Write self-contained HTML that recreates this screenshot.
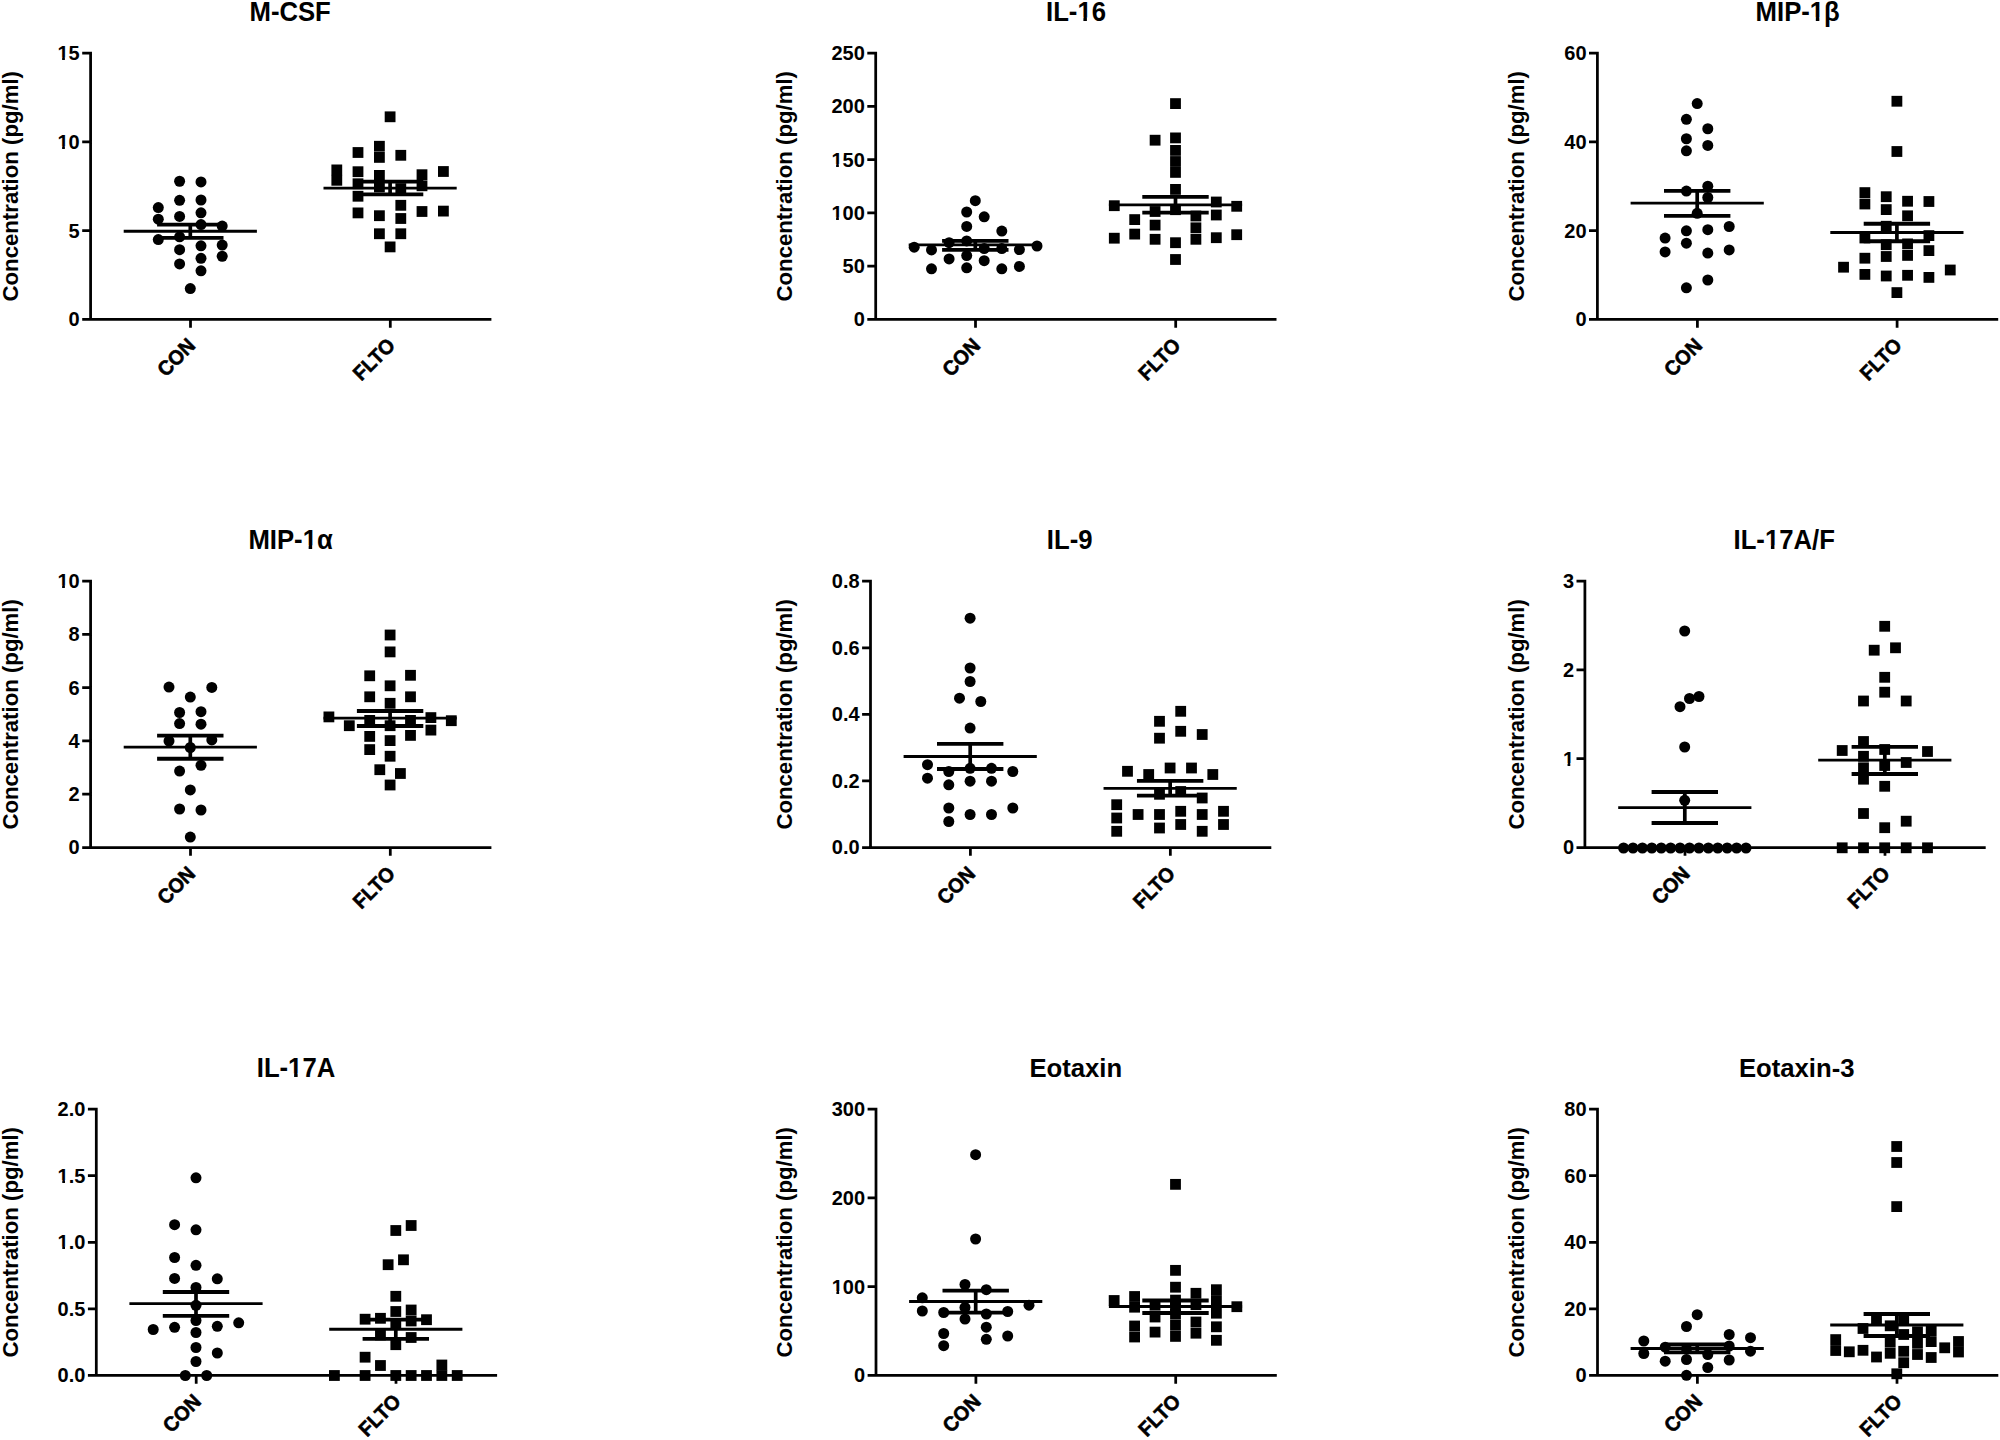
<!DOCTYPE html>
<html lang="en"><head><meta charset="utf-8"><title>Cytokine concentrations: CON vs FLTO</title>
<style>html,body{margin:0;padding:0;background:#fff}body{width:2000px;height:1440px;overflow:hidden}svg{display:block}text{font-family:"Liberation Sans",sans-serif;font-weight:bold;fill:#000}.t{font-size:25.7px;text-anchor:middle}.y{font-size:22.2px;text-anchor:middle}.k{font-size:20.0px;text-anchor:end}.x{font-size:19.7px;text-anchor:end;stroke:#000;stroke-width:.55px;stroke-linejoin:round}.a{stroke:#000;stroke-width:2.75;fill:none;stroke-linecap:butt}.m{stroke:#000;stroke-width:2.8;fill:none}.c{stroke:#000;stroke-width:3.8;fill:none}.s{stroke:#000;stroke-width:3.7;fill:none}</style></head><body>
<svg width="2000" height="1440" viewBox="0 0 2000 1440">
<rect width="2000" height="1440" fill="#fff"/>
<g>
<g transform="translate(290.15 20.5) scale(1 1.04)"><text class="t">M-CSF</text></g>
<text class="y" transform="translate(18.2 186.25) rotate(-90) scale(1 1)">Concentration (pg/ml)</text>
<path class="a" d="M90.6 51.72V320.77M82.2 319.4H491.4M82.2 53.1H90.6M82.2 141.87H90.6M82.2 230.63H90.6M190.5 319.4V327.75M390.3 319.4V327.75"/>
<g transform="translate(79.7 60) scale(1 1.04)"><text class="k">15</text><path fill="#fff" d="M-21.85 -2.39h4.28v3.39h-4.28zM-14.83 -2.39h4.16v3.39h-4.16z"/></g>
<g transform="translate(79.7 148.77) scale(1 1.04)"><text class="k">10</text><path fill="#fff" d="M-21.85 -2.39h4.28v3.39h-4.28zM-14.83 -2.39h4.16v3.39h-4.16z"/></g>
<g transform="translate(79.7 237.53) scale(1 1.04)"><text class="k">5</text></g>
<g transform="translate(79.7 326.3) scale(1 1.04)"><text class="k">0</text></g>
<text class="x" transform="translate(190.6 342.6) rotate(-45) scale(1 1.04)" x="1.3" y="6.9">CON</text>
<text class="x" transform="translate(390.4 342.6) rotate(-45) scale(1 1.04)" x="1.3" y="6.9">FLTO</text>
<circle cx="158.3" cy="207.6" r="5.5"/><circle cx="158.3" cy="219.2" r="5.5"/><circle cx="158.3" cy="239.6" r="5.5"/><circle cx="179.6" cy="181.25" r="5.5"/><circle cx="179.6" cy="200.3" r="5.5"/><circle cx="179.6" cy="216.4" r="5.5"/><circle cx="179.6" cy="236.8" r="5.5"/><circle cx="179.6" cy="249.7" r="5.5"/><circle cx="179.6" cy="263.9" r="5.5"/><circle cx="201" cy="181.9" r="5.5"/><circle cx="201" cy="200" r="5.5"/><circle cx="201" cy="212.8" r="5.5"/><circle cx="201" cy="224.6" r="5.5"/><circle cx="201" cy="245.8" r="5.5"/><circle cx="201" cy="258.3" r="5.5"/><circle cx="201" cy="270.8" r="5.5"/><circle cx="222.2" cy="226.1" r="5.5"/><circle cx="222.2" cy="245.1" r="5.5"/><circle cx="222.2" cy="256.25" r="5.5"/><circle cx="190.3" cy="288.6" r="5.5"/>
<path class="m" d="M123.7 231.25H256.9"/>
<path class="c" d="M157.1 224.6H223.5M157.1 237.8H223.5"/>
<path class="s" d="M190.3 224.6V237.8"/>
<rect x="384.7" y="111.4" width="10.8" height="10.8"/><rect x="384.7" y="241.5" width="10.8" height="10.8"/><rect x="374" y="140.85" width="10.8" height="10.8"/><rect x="374" y="152" width="10.8" height="10.8"/><rect x="374" y="170" width="10.8" height="10.8"/><rect x="374" y="181.6" width="10.8" height="10.8"/><rect x="374" y="210.3" width="10.8" height="10.8"/><rect x="374" y="228.35" width="10.8" height="10.8"/><rect x="395.4" y="149.9" width="10.8" height="10.8"/><rect x="395.4" y="183.2" width="10.8" height="10.8"/><rect x="395.4" y="199.9" width="10.8" height="10.8"/><rect x="395.4" y="213.1" width="10.8" height="10.8"/><rect x="395.4" y="228.35" width="10.8" height="10.8"/><rect x="352.6" y="147.1" width="10.8" height="10.8"/><rect x="352.6" y="166.3" width="10.8" height="10.8"/><rect x="352.6" y="178.35" width="10.8" height="10.8"/><rect x="352.6" y="190.85" width="10.8" height="10.8"/><rect x="352.6" y="207.5" width="10.8" height="10.8"/><rect x="416.6" y="169.3" width="10.8" height="10.8"/><rect x="416.6" y="180.4" width="10.8" height="10.8"/><rect x="416.6" y="206.1" width="10.8" height="10.8"/><rect x="331.4" y="164.5" width="10.8" height="10.8"/><rect x="331.4" y="174.9" width="10.8" height="10.8"/><rect x="438" y="166.1" width="10.8" height="10.8"/><rect x="438" y="205.7" width="10.8" height="10.8"/>
<path class="m" d="M323.5 188.2H456.7"/>
<path class="c" d="M356.9 181.7H423.3M356.9 194.4H423.3"/>
<path class="s" d="M390.1 181.7V194.4"/>
</g>
<g>
<g transform="translate(1076 20.5) scale(1 1.04)"><text class="t">IL-16</text><path fill="#fff" d="M1.89 -2.97h5.5v3.97h-5.5zM10.91 -2.97h5.35v3.97h-5.35z"/></g>
<text class="y" transform="translate(791.7 186.25) rotate(-90) scale(1 1)">Concentration (pg/ml)</text>
<path class="a" d="M875.7 51.72V320.77M867.3 319.4H1276.5M867.3 53.1H875.7M867.3 106.36H875.7M867.3 159.62H875.7M867.3 212.88H875.7M867.3 266.14H875.7M975.5 319.4V327.75M1175.7 319.4V327.75"/>
<g transform="translate(864.8 60) scale(1 1.04)"><text class="k">250</text></g>
<g transform="translate(864.8 113.26) scale(1 1.04)"><text class="k">200</text></g>
<g transform="translate(864.8 166.52) scale(1 1.04)"><text class="k">150</text><path fill="#fff" d="M-32.97 -2.39h4.28v3.39h-4.28zM-25.95 -2.39h4.16v3.39h-4.16z"/></g>
<g transform="translate(864.8 219.78) scale(1 1.04)"><text class="k">100</text><path fill="#fff" d="M-32.97 -2.39h4.28v3.39h-4.28zM-25.95 -2.39h4.16v3.39h-4.16z"/></g>
<g transform="translate(864.8 273.04) scale(1 1.04)"><text class="k">50</text></g>
<g transform="translate(864.8 326.3) scale(1 1.04)"><text class="k">0</text></g>
<text class="x" transform="translate(975.6 342.6) rotate(-45) scale(1 1.04)" x="1.3" y="6.9">CON</text>
<text class="x" transform="translate(1175.8 342.6) rotate(-45) scale(1 1.04)" x="1.3" y="6.9">FLTO</text>
<circle cx="975.3" cy="200.7" r="5.5"/><circle cx="966.7" cy="212" r="5.5"/><circle cx="984.2" cy="216.8" r="5.5"/><circle cx="966.7" cy="226.4" r="5.5"/><circle cx="1001.8" cy="231.1" r="5.5"/><circle cx="966.7" cy="240.9" r="5.5"/><circle cx="949.1" cy="242.7" r="5.5"/><circle cx="914.2" cy="247.2" r="5.5"/><circle cx="1037" cy="246" r="5.5"/><circle cx="931.5" cy="249.9" r="5.5"/><circle cx="984.2" cy="248.5" r="5.5"/><circle cx="1001.8" cy="248.5" r="5.5"/><circle cx="1019.4" cy="249.6" r="5.5"/><circle cx="966.7" cy="255.6" r="5.5"/><circle cx="949.1" cy="258.9" r="5.5"/><circle cx="984.2" cy="260.7" r="5.5"/><circle cx="931.5" cy="268.8" r="5.5"/><circle cx="966.7" cy="267.8" r="5.5"/><circle cx="1001.8" cy="268.8" r="5.5"/><circle cx="1019.4" cy="266.4" r="5.5"/>
<path class="m" d="M908.7 244.9H1041.9"/>
<path class="c" d="M942.1 240.9H1008.5M942.1 249.9H1008.5"/>
<path class="s" d="M975.3 240.9V249.9"/>
<rect x="1170.1" y="98.2" width="10.8" height="10.8"/><rect x="1170.1" y="132.5" width="10.8" height="10.8"/><rect x="1170.1" y="145" width="10.8" height="10.8"/><rect x="1170.1" y="156.1" width="10.8" height="10.8"/><rect x="1170.1" y="167" width="10.8" height="10.8"/><rect x="1170.1" y="184" width="10.8" height="10.8"/><rect x="1170.1" y="204.3" width="10.8" height="10.8"/><rect x="1170.1" y="237.3" width="10.8" height="10.8"/><rect x="1170.1" y="254.1" width="10.8" height="10.8"/><rect x="1149.7" y="134.8" width="10.8" height="10.8"/><rect x="1149.7" y="206.1" width="10.8" height="10.8"/><rect x="1149.7" y="219.7" width="10.8" height="10.8"/><rect x="1149.7" y="233.9" width="10.8" height="10.8"/><rect x="1190.5" y="210.6" width="10.8" height="10.8"/><rect x="1190.5" y="222.4" width="10.8" height="10.8"/><rect x="1190.5" y="233.9" width="10.8" height="10.8"/><rect x="1129.3" y="214.2" width="10.8" height="10.8"/><rect x="1129.3" y="228.7" width="10.8" height="10.8"/><rect x="1210.9" y="196.6" width="10.8" height="10.8"/><rect x="1210.9" y="209.6" width="10.8" height="10.8"/><rect x="1210.9" y="232.3" width="10.8" height="10.8"/><rect x="1108.9" y="200.3" width="10.8" height="10.8"/><rect x="1108.9" y="232.8" width="10.8" height="10.8"/><rect x="1231.3" y="200.9" width="10.8" height="10.8"/><rect x="1231.3" y="229.3" width="10.8" height="10.8"/>
<path class="m" d="M1108.9 204.8H1242.1"/>
<path class="c" d="M1142.3 196.8H1208.7M1142.3 212.7H1208.7"/>
<path class="s" d="M1175.5 196.8V212.7"/>
</g>
<g>
<g transform="translate(1797.7 20.5) scale(1 1.04)"><text class="t">MIP-1β</text><path fill="#fff" d="M12.61 -2.97h5.5v3.97h-5.5zM21.63 -2.97h5.35v3.97h-5.35z"/></g>
<text class="y" transform="translate(1524.2 186.25) rotate(-90) scale(1 1)">Concentration (pg/ml)</text>
<path class="a" d="M1597.4 51.72V320.77M1589 319.4H1998.2M1589 53.1H1597.4M1589 141.87H1597.4M1589 230.63H1597.4M1697.4 319.4V327.75M1897.1 319.4V327.75"/>
<g transform="translate(1586.5 60) scale(1 1.04)"><text class="k">60</text></g>
<g transform="translate(1586.5 148.77) scale(1 1.04)"><text class="k">40</text></g>
<g transform="translate(1586.5 237.53) scale(1 1.04)"><text class="k">20</text></g>
<g transform="translate(1586.5 326.3) scale(1 1.04)"><text class="k">0</text></g>
<text class="x" transform="translate(1697.5 342.6) rotate(-45) scale(1 1.04)" x="1.3" y="6.9">CON</text>
<text class="x" transform="translate(1897.2 342.6) rotate(-45) scale(1 1.04)" x="1.3" y="6.9">FLTO</text>
<circle cx="1697.2" cy="103.6" r="5.5"/><circle cx="1686.4" cy="119.3" r="5.5"/><circle cx="1707.8" cy="128.75" r="5.5"/><circle cx="1686.4" cy="138.75" r="5.5"/><circle cx="1707.8" cy="145.4" r="5.5"/><circle cx="1686.4" cy="150.8" r="5.5"/><circle cx="1707.8" cy="186.25" r="5.5"/><circle cx="1686.4" cy="191.1" r="5.5"/><circle cx="1707.8" cy="197.5" r="5.5"/><circle cx="1697.2" cy="213.3" r="5.5"/><circle cx="1729.2" cy="226.5" r="5.5"/><circle cx="1707.8" cy="229.7" r="5.5"/><circle cx="1686.4" cy="230.8" r="5.5"/><circle cx="1665.1" cy="238.1" r="5.5"/><circle cx="1686.4" cy="243.2" r="5.5"/><circle cx="1729.2" cy="249.9" r="5.5"/><circle cx="1665.1" cy="251.9" r="5.5"/><circle cx="1707.8" cy="253.1" r="5.5"/><circle cx="1707.8" cy="280" r="5.5"/><circle cx="1686.4" cy="287.8" r="5.5"/>
<path class="m" d="M1630.6 203.2H1763.8"/>
<path class="c" d="M1664 190.8H1730.4M1664 215.8H1730.4"/>
<path class="s" d="M1697.2 190.8V215.8"/>
<rect x="1891.5" y="95.85" width="10.8" height="10.8"/><rect x="1891.5" y="146.1" width="10.8" height="10.8"/><rect x="1891.5" y="287.2" width="10.8" height="10.8"/><rect x="1859.49" y="187.2" width="10.8" height="10.8"/><rect x="1859.49" y="198.6" width="10.8" height="10.8"/><rect x="1859.49" y="232.6" width="10.8" height="10.8"/><rect x="1859.49" y="252.8" width="10.8" height="10.8"/><rect x="1859.49" y="269" width="10.8" height="10.8"/><rect x="1880.83" y="191.3" width="10.8" height="10.8"/><rect x="1880.83" y="204.2" width="10.8" height="10.8"/><rect x="1880.83" y="220.85" width="10.8" height="10.8"/><rect x="1880.83" y="239.3" width="10.8" height="10.8"/><rect x="1880.83" y="251.1" width="10.8" height="10.8"/><rect x="1880.83" y="270.6" width="10.8" height="10.8"/><rect x="1902.17" y="195.85" width="10.8" height="10.8"/><rect x="1902.17" y="210.4" width="10.8" height="10.8"/><rect x="1902.17" y="238.5" width="10.8" height="10.8"/><rect x="1902.17" y="250" width="10.8" height="10.8"/><rect x="1902.17" y="269.9" width="10.8" height="10.8"/><rect x="1923.51" y="196.1" width="10.8" height="10.8"/><rect x="1923.51" y="230.2" width="10.8" height="10.8"/><rect x="1923.51" y="245.2" width="10.8" height="10.8"/><rect x="1923.51" y="272" width="10.8" height="10.8"/><rect x="1838.15" y="261.8" width="10.8" height="10.8"/><rect x="1944.85" y="264.6" width="10.8" height="10.8"/>
<path class="m" d="M1830.3 232.5H1963.5"/>
<path class="c" d="M1863.7 223.75H1930.1M1863.7 241.25H1930.1"/>
<path class="s" d="M1896.9 223.75V241.25"/>
</g>
<g>
<g transform="translate(290.6 548.6) scale(1 1.04)"><text class="t">MIP-1α</text><path fill="#fff" d="M12.56 -2.97h5.5v3.97h-5.5zM21.58 -2.97h5.35v3.97h-5.35z"/></g>
<text class="y" transform="translate(18.2 714.35) rotate(-90) scale(1 1)">Concentration (pg/ml)</text>
<path class="a" d="M90.6 579.83V848.88M82.2 847.5H491.4M82.2 581.2H90.6M82.2 634.46H90.6M82.2 687.72H90.6M82.2 740.98H90.6M82.2 794.24H90.6M190.5 847.5V855.85M390.3 847.5V855.85"/>
<g transform="translate(79.7 588.1) scale(1 1.04)"><text class="k">10</text><path fill="#fff" d="M-21.85 -2.39h4.28v3.39h-4.28zM-14.83 -2.39h4.16v3.39h-4.16z"/></g>
<g transform="translate(79.7 641.36) scale(1 1.04)"><text class="k">8</text></g>
<g transform="translate(79.7 694.62) scale(1 1.04)"><text class="k">6</text></g>
<g transform="translate(79.7 747.88) scale(1 1.04)"><text class="k">4</text></g>
<g transform="translate(79.7 801.14) scale(1 1.04)"><text class="k">2</text></g>
<g transform="translate(79.7 854.4) scale(1 1.04)"><text class="k">0</text></g>
<text class="x" transform="translate(190.6 870.7) rotate(-45) scale(1 1.04)" x="1.3" y="6.9">CON</text>
<text class="x" transform="translate(390.4 870.7) rotate(-45) scale(1 1.04)" x="1.3" y="6.9">FLTO</text>
<circle cx="169" cy="687.1" r="5.5"/><circle cx="211.8" cy="687.4" r="5.5"/><circle cx="190.3" cy="697.1" r="5.5"/><circle cx="179.6" cy="712.5" r="5.5"/><circle cx="201" cy="711.7" r="5.5"/><circle cx="179.6" cy="723.6" r="5.5"/><circle cx="201" cy="724.2" r="5.5"/><circle cx="169" cy="741" r="5.5"/><circle cx="211.8" cy="739.9" r="5.5"/><circle cx="190.3" cy="747.5" r="5.5"/><circle cx="201" cy="765.3" r="5.5"/><circle cx="179.6" cy="771.1" r="5.5"/><circle cx="190.3" cy="789.9" r="5.5"/><circle cx="179.6" cy="809" r="5.5"/><circle cx="201" cy="810" r="5.5"/><circle cx="190.3" cy="837.1" r="5.5"/>
<path class="m" d="M123.7 747.2H256.9"/>
<path class="c" d="M157.1 735.7H223.5M157.1 758.75H223.5"/>
<path class="s" d="M190.3 735.7V758.75"/>
<rect x="384.7" y="629.6" width="10.8" height="10.8"/><rect x="384.7" y="646.5" width="10.8" height="10.8"/><rect x="384.7" y="680.4" width="10.8" height="10.8"/><rect x="384.7" y="697.9" width="10.8" height="10.8"/><rect x="384.7" y="720.3" width="10.8" height="10.8"/><rect x="384.7" y="735.2" width="10.8" height="10.8"/><rect x="384.7" y="750.85" width="10.8" height="10.8"/><rect x="384.7" y="779.6" width="10.8" height="10.8"/><rect x="364.3" y="670.4" width="10.8" height="10.8"/><rect x="364.3" y="691.4" width="10.8" height="10.8"/><rect x="364.3" y="715" width="10.8" height="10.8"/><rect x="364.3" y="731" width="10.8" height="10.8"/><rect x="364.3" y="744.2" width="10.8" height="10.8"/><rect x="405.1" y="669.9" width="10.8" height="10.8"/><rect x="405.1" y="691.4" width="10.8" height="10.8"/><rect x="405.1" y="715" width="10.8" height="10.8"/><rect x="405.1" y="730" width="10.8" height="10.8"/><rect x="343.9" y="720.3" width="10.8" height="10.8"/><rect x="425.5" y="712.2" width="10.8" height="10.8"/><rect x="425.5" y="724.7" width="10.8" height="10.8"/><rect x="323.5" y="711.5" width="10.8" height="10.8"/><rect x="445.9" y="715.3" width="10.8" height="10.8"/><rect x="374.4" y="764.3" width="10.8" height="10.8"/><rect x="395" y="768.1" width="10.8" height="10.8"/>
<path class="m" d="M323.5 718.05H456.7"/>
<path class="c" d="M356.9 711H423.3M356.9 726H423.3"/>
<path class="s" d="M390.1 711V726"/>
</g>
<g>
<g transform="translate(1069.7 548.6) scale(1 1.04)"><text class="t">IL-9</text></g>
<text class="y" transform="translate(791.7 714.35) rotate(-90) scale(1 1)">Concentration (pg/ml)</text>
<path class="a" d="M870.5 579.83V848.88M862.1 847.5H1271.3M862.1 581.2H870.5M862.1 647.78H870.5M862.1 714.35H870.5M862.1 780.93H870.5M970.4 847.5V855.85M1170.35 847.5V855.85"/>
<g transform="translate(859.6 588.1) scale(1 1.04)"><text class="k">0.8</text></g>
<g transform="translate(859.6 654.68) scale(1 1.04)"><text class="k">0.6</text></g>
<g transform="translate(859.6 721.25) scale(1 1.04)"><text class="k">0.4</text></g>
<g transform="translate(859.6 787.83) scale(1 1.04)"><text class="k">0.2</text></g>
<g transform="translate(859.6 854.4) scale(1 1.04)"><text class="k">0.0</text></g>
<text class="x" transform="translate(970.5 870.7) rotate(-45) scale(1 1.04)" x="1.3" y="6.9">CON</text>
<text class="x" transform="translate(1170.45 870.7) rotate(-45) scale(1 1.04)" x="1.3" y="6.9">FLTO</text>
<circle cx="970.1" cy="618.2" r="5.5"/><circle cx="970.1" cy="668" r="5.5"/><circle cx="970.1" cy="681.5" r="5.5"/><circle cx="959.5" cy="698.2" r="5.5"/><circle cx="980.8" cy="701.5" r="5.5"/><circle cx="970.1" cy="728.1" r="5.5"/><circle cx="927.5" cy="764.7" r="5.5"/><circle cx="927.5" cy="778.2" r="5.5"/><circle cx="948.8" cy="771.5" r="5.5"/><circle cx="948.8" cy="784.8" r="5.5"/><circle cx="970.1" cy="768.3" r="5.5"/><circle cx="970.1" cy="781.2" r="5.5"/><circle cx="991.5" cy="768.3" r="5.5"/><circle cx="991.5" cy="781.2" r="5.5"/><circle cx="1012.8" cy="771.5" r="5.5"/><circle cx="948.8" cy="808" r="5.5"/><circle cx="948.8" cy="821.5" r="5.5"/><circle cx="970.1" cy="814.5" r="5.5"/><circle cx="991.5" cy="814.5" r="5.5"/><circle cx="1012.8" cy="808" r="5.5"/>
<path class="m" d="M903.6 756.5H1036.8"/>
<path class="c" d="M937 743.9H1003.4M937 769H1003.4"/>
<path class="s" d="M970.2 743.9V769"/>
<rect x="1175.3" y="705.9" width="10.8" height="10.8"/><rect x="1154.1" y="715.9" width="10.8" height="10.8"/><rect x="1175.3" y="725.9" width="10.8" height="10.8"/><rect x="1196.8" y="729.1" width="10.8" height="10.8"/><rect x="1154.1" y="732.8" width="10.8" height="10.8"/><rect x="1164.7" y="762.6" width="10.8" height="10.8"/><rect x="1186.1" y="762.6" width="10.8" height="10.8"/><rect x="1122.1" y="765.9" width="10.8" height="10.8"/><rect x="1143.3" y="769.1" width="10.8" height="10.8"/><rect x="1207.4" y="769.1" width="10.8" height="10.8"/><rect x="1154.1" y="788.9" width="10.8" height="10.8"/><rect x="1175.3" y="786.1" width="10.8" height="10.8"/><rect x="1196.8" y="792.6" width="10.8" height="10.8"/><rect x="1111.3" y="799.3" width="10.8" height="10.8"/><rect x="1111.3" y="812.6" width="10.8" height="10.8"/><rect x="1111.3" y="825.9" width="10.8" height="10.8"/><rect x="1132.7" y="809.1" width="10.8" height="10.8"/><rect x="1154.1" y="809.1" width="10.8" height="10.8"/><rect x="1154.1" y="822.6" width="10.8" height="10.8"/><rect x="1175.3" y="805.9" width="10.8" height="10.8"/><rect x="1175.3" y="819.1" width="10.8" height="10.8"/><rect x="1196.8" y="809.1" width="10.8" height="10.8"/><rect x="1196.8" y="825.9" width="10.8" height="10.8"/><rect x="1218.1" y="805.9" width="10.8" height="10.8"/><rect x="1218.1" y="819.1" width="10.8" height="10.8"/>
<path class="m" d="M1103.55 788.3H1236.75"/>
<path class="c" d="M1136.95 780.8H1203.35M1136.95 795.7H1203.35"/>
<path class="s" d="M1170.15 780.8V795.7"/>
</g>
<g>
<g transform="translate(1784.2 548.6) scale(1 1.04)"><text class="t">IL-17A/F</text><path fill="#fff" d="M-18.8 -2.97h5.5v3.97h-5.5zM-9.77 -2.97h5.35v3.97h-5.35z"/></g>
<text class="y" transform="translate(1524.2 714.35) rotate(-90) scale(1 1)">Concentration (pg/ml)</text>
<path class="a" d="M1584.9 579.83V848.88M1576.5 847.5H1985.7M1576.5 581.2H1584.9M1576.5 669.97H1584.9M1576.5 758.73H1584.9M1685 847.5V855.85M1885 847.5V855.85"/>
<g transform="translate(1574 588.1) scale(1 1.04)"><text class="k">3</text></g>
<g transform="translate(1574 676.87) scale(1 1.04)"><text class="k">2</text></g>
<g transform="translate(1574 765.63) scale(1 1.04)"><text class="k">1</text><path fill="#fff" d="M-10.73 -2.39h4.28v3.39h-4.28zM-3.71 -2.39h4.16v3.39h-4.16z"/></g>
<g transform="translate(1574 854.4) scale(1 1.04)"><text class="k">0</text></g>
<text class="x" transform="translate(1685.1 870.7) rotate(-45) scale(1 1.04)" x="1.3" y="6.9">CON</text>
<text class="x" transform="translate(1885.1 870.7) rotate(-45) scale(1 1.04)" x="1.3" y="6.9">FLTO</text>
<circle cx="1684.7" cy="631" r="5.5"/><circle cx="1680" cy="706.7" r="5.5"/><circle cx="1689.5" cy="698.5" r="5.5"/><circle cx="1699" cy="696.5" r="5.5"/><circle cx="1684.7" cy="747" r="5.5"/><circle cx="1684.7" cy="800.3" r="5.5"/><circle cx="1623.57" cy="848" r="5.5"/><circle cx="1632.99" cy="848" r="5.5"/><circle cx="1642.41" cy="848" r="5.5"/><circle cx="1651.83" cy="848" r="5.5"/><circle cx="1661.25" cy="848" r="5.5"/><circle cx="1670.67" cy="848" r="5.5"/><circle cx="1680.09" cy="848" r="5.5"/><circle cx="1689.51" cy="848" r="5.5"/><circle cx="1698.93" cy="848" r="5.5"/><circle cx="1708.35" cy="848" r="5.5"/><circle cx="1717.77" cy="848" r="5.5"/><circle cx="1727.19" cy="848" r="5.5"/><circle cx="1736.61" cy="848" r="5.5"/><circle cx="1746.03" cy="848" r="5.5"/>
<path class="m" d="M1618.2 807.6H1751.4"/>
<path class="c" d="M1651.6 792H1718M1651.6 823H1718"/>
<path class="s" d="M1684.8 792V823"/>
<rect x="1879.3" y="620.9" width="10.8" height="10.8"/><rect x="1868.8" y="644.8" width="10.8" height="10.8"/><rect x="1890.1" y="642.4" width="10.8" height="10.8"/><rect x="1879.3" y="671.9" width="10.8" height="10.8"/><rect x="1879.3" y="686.8" width="10.8" height="10.8"/><rect x="1858.1" y="695.6" width="10.8" height="10.8"/><rect x="1900.8" y="695.6" width="10.8" height="10.8"/><rect x="1858.1" y="736.1" width="10.8" height="10.8"/><rect x="1836.8" y="745.1" width="10.8" height="10.8"/><rect x="1922.1" y="746.1" width="10.8" height="10.8"/><rect x="1879.3" y="744.1" width="10.8" height="10.8"/><rect x="1858.1" y="750.9" width="10.8" height="10.8"/><rect x="1858.1" y="762.4" width="10.8" height="10.8"/><rect x="1858.1" y="773.8" width="10.8" height="10.8"/><rect x="1879.3" y="760.1" width="10.8" height="10.8"/><rect x="1900.8" y="757.1" width="10.8" height="10.8"/><rect x="1879.3" y="780.9" width="10.8" height="10.8"/><rect x="1858.1" y="808.1" width="10.8" height="10.8"/><rect x="1900.8" y="815.8" width="10.8" height="10.8"/><rect x="1879.3" y="822.3" width="10.8" height="10.8"/><rect x="1836.8" y="842.4" width="10.8" height="10.8"/><rect x="1858.1" y="842.4" width="10.8" height="10.8"/><rect x="1879.3" y="842.4" width="10.8" height="10.8"/><rect x="1900.8" y="842.4" width="10.8" height="10.8"/><rect x="1922.1" y="842.4" width="10.8" height="10.8"/>
<path class="m" d="M1818.2 760.2H1951.4"/>
<path class="c" d="M1851.6 746.8H1918M1851.6 774H1918"/>
<path class="s" d="M1884.8 746.8V774"/>
</g>
<g>
<g transform="translate(296 1076.5) scale(1 1.04)"><text class="t">IL-17A</text><path fill="#fff" d="M-7.39 -2.97h5.5v3.97h-5.5zM1.64 -2.97h5.35v3.97h-5.35z"/></g>
<text class="y" transform="translate(18.2 1242.25) rotate(-90) scale(1 1)">Concentration (pg/ml)</text>
<path class="a" d="M96.3 1107.73V1376.78M87.9 1375.4H497.1M87.9 1109.1H96.3M87.9 1175.68H96.3M87.9 1242.25H96.3M87.9 1308.83H96.3M196.2 1375.4V1383.75M396 1375.4V1383.75"/>
<g transform="translate(85.4 1116) scale(1 1.04)"><text class="k">2.0</text></g>
<g transform="translate(85.4 1182.58) scale(1 1.04)"><text class="k">1.5</text><path fill="#fff" d="M-27.41 -2.39h4.28v3.39h-4.28zM-20.39 -2.39h4.16v3.39h-4.16z"/></g>
<g transform="translate(85.4 1249.15) scale(1 1.04)"><text class="k">1.0</text><path fill="#fff" d="M-27.41 -2.39h4.28v3.39h-4.28zM-20.39 -2.39h4.16v3.39h-4.16z"/></g>
<g transform="translate(85.4 1315.73) scale(1 1.04)"><text class="k">0.5</text></g>
<g transform="translate(85.4 1382.3) scale(1 1.04)"><text class="k">0.0</text></g>
<text class="x" transform="translate(196.3 1398.6) rotate(-45) scale(1 1.04)" x="1.3" y="6.9">CON</text>
<text class="x" transform="translate(396.1 1398.6) rotate(-45) scale(1 1.04)" x="1.3" y="6.9">FLTO</text>
<circle cx="196" cy="1177.8" r="5.5"/><circle cx="174.6" cy="1224.7" r="5.5"/><circle cx="196" cy="1229.8" r="5.5"/><circle cx="174.6" cy="1257.5" r="5.5"/><circle cx="196" cy="1265.3" r="5.5"/><circle cx="174.6" cy="1278.4" r="5.5"/><circle cx="217.3" cy="1278.8" r="5.5"/><circle cx="196" cy="1287.4" r="5.5"/><circle cx="196" cy="1305.3" r="5.5"/><circle cx="196" cy="1320.5" r="5.5"/><circle cx="153.2" cy="1329.5" r="5.5"/><circle cx="174.6" cy="1327.3" r="5.5"/><circle cx="217.3" cy="1326.3" r="5.5"/><circle cx="238.7" cy="1322.8" r="5.5"/><circle cx="196" cy="1332.5" r="5.5"/><circle cx="196" cy="1347.5" r="5.5"/><circle cx="217.3" cy="1353" r="5.5"/><circle cx="196" cy="1361.5" r="5.5"/><circle cx="185.3" cy="1375.5" r="5.5"/><circle cx="206.7" cy="1375.5" r="5.5"/>
<path class="m" d="M129.4 1303.7H262.6"/>
<path class="c" d="M162.8 1292H229.2M162.8 1315.8H229.2"/>
<path class="s" d="M196 1292V1315.8"/>
<rect x="390.4" y="1225.1" width="10.8" height="10.8"/><rect x="405.75" y="1220.1" width="10.8" height="10.8"/><rect x="382.73" y="1259.3" width="10.8" height="10.8"/><rect x="398.08" y="1254.4" width="10.8" height="10.8"/><rect x="390.4" y="1290.9" width="10.8" height="10.8"/><rect x="390.4" y="1306.1" width="10.8" height="10.8"/><rect x="405.75" y="1304.6" width="10.8" height="10.8"/><rect x="405.75" y="1315.6" width="10.8" height="10.8"/><rect x="359.7" y="1313.8" width="10.8" height="10.8"/><rect x="375.05" y="1312.9" width="10.8" height="10.8"/><rect x="421.1" y="1314.3" width="10.8" height="10.8"/><rect x="390.4" y="1318.6" width="10.8" height="10.8"/><rect x="375.05" y="1329.6" width="10.8" height="10.8"/><rect x="405.75" y="1332.1" width="10.8" height="10.8"/><rect x="390.4" y="1339.3" width="10.8" height="10.8"/><rect x="359.7" y="1351.8" width="10.8" height="10.8"/><rect x="375.05" y="1360.1" width="10.8" height="10.8"/><rect x="436.45" y="1359.6" width="10.8" height="10.8"/><rect x="329" y="1370.1" width="10.8" height="10.8"/><rect x="359.7" y="1370.1" width="10.8" height="10.8"/><rect x="390.4" y="1370.1" width="10.8" height="10.8"/><rect x="405.75" y="1370.1" width="10.8" height="10.8"/><rect x="421.1" y="1370.1" width="10.8" height="10.8"/><rect x="436.45" y="1370.1" width="10.8" height="10.8"/><rect x="451.8" y="1370.1" width="10.8" height="10.8"/>
<path class="m" d="M329.2 1329.25H462.4"/>
<path class="c" d="M362.6 1319.6H429M362.6 1338.8H429"/>
<path class="s" d="M395.8 1319.6V1338.8"/>
</g>
<g>
<g transform="translate(1075.8 1076.5) scale(1 1.02)"><text class="t">Eotaxin</text></g>
<text class="y" transform="translate(791.7 1242.25) rotate(-90) scale(1 1)">Concentration (pg/ml)</text>
<path class="a" d="M876 1107.73V1376.78M867.6 1375.4H1276.8M867.6 1109.1H876M867.6 1197.87H876M867.6 1286.63H876M975.9 1375.4V1383.75M1175.7 1375.4V1383.75"/>
<g transform="translate(865.1 1116) scale(1 1.04)"><text class="k">300</text></g>
<g transform="translate(865.1 1204.77) scale(1 1.04)"><text class="k">200</text></g>
<g transform="translate(865.1 1293.53) scale(1 1.04)"><text class="k">100</text><path fill="#fff" d="M-32.97 -2.39h4.28v3.39h-4.28zM-25.95 -2.39h4.16v3.39h-4.16z"/></g>
<g transform="translate(865.1 1382.3) scale(1 1.04)"><text class="k">0</text></g>
<text class="x" transform="translate(976 1398.6) rotate(-45) scale(1 1.04)" x="1.3" y="6.9">CON</text>
<text class="x" transform="translate(1175.8 1398.6) rotate(-45) scale(1 1.04)" x="1.3" y="6.9">FLTO</text>
<circle cx="975.6" cy="1154.7" r="5.5"/><circle cx="975.6" cy="1239" r="5.5"/><circle cx="965" cy="1284.5" r="5.5"/><circle cx="986.3" cy="1289.7" r="5.5"/><circle cx="922.3" cy="1297.8" r="5.5"/><circle cx="922.3" cy="1311" r="5.5"/><circle cx="943.7" cy="1312.5" r="5.5"/><circle cx="965" cy="1307.5" r="5.5"/><circle cx="965" cy="1319" r="5.5"/><circle cx="986.3" cy="1314" r="5.5"/><circle cx="1007.7" cy="1311.5" r="5.5"/><circle cx="1029" cy="1305.2" r="5.5"/><circle cx="986.3" cy="1327.2" r="5.5"/><circle cx="943.7" cy="1333.5" r="5.5"/><circle cx="986.3" cy="1339.3" r="5.5"/><circle cx="1007.7" cy="1336" r="5.5"/><circle cx="943.7" cy="1345.7" r="5.5"/>
<path class="m" d="M909.1 1301.5H1042.3"/>
<path class="c" d="M942.5 1290.7H1008.9M942.5 1312.7H1008.9"/>
<path class="s" d="M975.7 1290.7V1312.7"/>
<rect x="1170.1" y="1178.95" width="10.8" height="10.8"/><rect x="1170.1" y="1264.95" width="10.8" height="10.8"/><rect x="1170.1" y="1281.8" width="10.8" height="10.8"/><rect x="1170.1" y="1294.7" width="10.8" height="10.8"/><rect x="1170.1" y="1301.9" width="10.8" height="10.8"/><rect x="1170.1" y="1308.8" width="10.8" height="10.8"/><rect x="1170.1" y="1319.9" width="10.8" height="10.8"/><rect x="1170.1" y="1331" width="10.8" height="10.8"/><rect x="1129.2" y="1291.1" width="10.8" height="10.8"/><rect x="1129.2" y="1301.8" width="10.8" height="10.8"/><rect x="1129.2" y="1320.6" width="10.8" height="10.8"/><rect x="1129.2" y="1331.6" width="10.8" height="10.8"/><rect x="1149.65" y="1299.8" width="10.8" height="10.8"/><rect x="1149.65" y="1311.6" width="10.8" height="10.8"/><rect x="1149.65" y="1326.7" width="10.8" height="10.8"/><rect x="1190.55" y="1287.9" width="10.8" height="10.8"/><rect x="1190.55" y="1299.3" width="10.8" height="10.8"/><rect x="1190.55" y="1316.6" width="10.8" height="10.8"/><rect x="1190.55" y="1327.8" width="10.8" height="10.8"/><rect x="1211" y="1284.3" width="10.8" height="10.8"/><rect x="1211" y="1295.1" width="10.8" height="10.8"/><rect x="1211" y="1307.8" width="10.8" height="10.8"/><rect x="1211" y="1321.4" width="10.8" height="10.8"/><rect x="1211" y="1334.9" width="10.8" height="10.8"/><rect x="1108.75" y="1295.1" width="10.8" height="10.8"/><rect x="1231.45" y="1301.3" width="10.8" height="10.8"/>
<path class="m" d="M1108.9 1306.5H1242.1"/>
<path class="c" d="M1142.3 1300.5H1208.7M1142.3 1313H1208.7"/>
<path class="s" d="M1175.5 1300.5V1313"/>
</g>
<g>
<g transform="translate(1796.7 1076.5) scale(1 1.02)"><text class="t">Eotaxin-3</text></g>
<text class="y" transform="translate(1524.2 1242.25) rotate(-90) scale(1 1)">Concentration (pg/ml)</text>
<path class="a" d="M1597.5 1107.73V1376.78M1589.1 1375.4H1998.3M1589.1 1109.1H1597.5M1589.1 1175.68H1597.5M1589.1 1242.25H1597.5M1589.1 1308.83H1597.5M1697.4 1375.4V1383.75M1897 1375.4V1383.75"/>
<g transform="translate(1586.6 1116) scale(1 1.04)"><text class="k">80</text></g>
<g transform="translate(1586.6 1182.58) scale(1 1.04)"><text class="k">60</text></g>
<g transform="translate(1586.6 1249.15) scale(1 1.04)"><text class="k">40</text></g>
<g transform="translate(1586.6 1315.73) scale(1 1.04)"><text class="k">20</text></g>
<g transform="translate(1586.6 1382.3) scale(1 1.04)"><text class="k">0</text></g>
<text class="x" transform="translate(1697.5 1398.6) rotate(-45) scale(1 1.04)" x="1.3" y="6.9">CON</text>
<text class="x" transform="translate(1897.1 1398.6) rotate(-45) scale(1 1.04)" x="1.3" y="6.9">FLTO</text>
<circle cx="1697.2" cy="1314.7" r="5.5"/><circle cx="1686.5" cy="1326.5" r="5.5"/><circle cx="1729.2" cy="1334.5" r="5.5"/><circle cx="1750.5" cy="1337.7" r="5.5"/><circle cx="1643.8" cy="1341" r="5.5"/><circle cx="1665.2" cy="1347.2" r="5.5"/><circle cx="1729.2" cy="1346" r="5.5"/><circle cx="1686.5" cy="1349" r="5.5"/><circle cx="1750.5" cy="1351.2" r="5.5"/><circle cx="1643.8" cy="1353.5" r="5.5"/><circle cx="1707.8" cy="1354.5" r="5.5"/><circle cx="1665.2" cy="1361.2" r="5.5"/><circle cx="1686.5" cy="1359.5" r="5.5"/><circle cx="1729.2" cy="1360" r="5.5"/><circle cx="1707.8" cy="1367.5" r="5.5"/><circle cx="1686.5" cy="1375.3" r="5.5"/>
<path class="m" d="M1630.6 1348.5H1763.8"/>
<path class="c" d="M1664 1344.5H1730.4M1664 1352.3H1730.4"/>
<path class="s" d="M1697.2 1344.5V1352.3"/>
<rect x="1891.3" y="1141.1" width="10.8" height="10.8"/><rect x="1891.3" y="1157.1" width="10.8" height="10.8"/><rect x="1891.3" y="1201.2" width="10.8" height="10.8"/><rect x="1830.3" y="1334.2" width="10.8" height="10.8"/><rect x="1830.3" y="1345.1" width="10.8" height="10.8"/><rect x="1843.9" y="1346.4" width="10.8" height="10.8"/><rect x="1857.6" y="1323.1" width="10.8" height="10.8"/><rect x="1857.6" y="1344.9" width="10.8" height="10.8"/><rect x="1871.1" y="1313.9" width="10.8" height="10.8"/><rect x="1871.1" y="1351.6" width="10.8" height="10.8"/><rect x="1884.8" y="1320.4" width="10.8" height="10.8"/><rect x="1884.8" y="1336.8" width="10.8" height="10.8"/><rect x="1884.8" y="1347.9" width="10.8" height="10.8"/><rect x="1898.3" y="1314.4" width="10.8" height="10.8"/><rect x="1898.3" y="1329.1" width="10.8" height="10.8"/><rect x="1898.3" y="1345.9" width="10.8" height="10.8"/><rect x="1898.3" y="1357.3" width="10.8" height="10.8"/><rect x="1912.1" y="1326.4" width="10.8" height="10.8"/><rect x="1912.1" y="1337.9" width="10.8" height="10.8"/><rect x="1912.1" y="1349.1" width="10.8" height="10.8"/><rect x="1925.8" y="1325.3" width="10.8" height="10.8"/><rect x="1925.8" y="1336.2" width="10.8" height="10.8"/><rect x="1925.8" y="1352.1" width="10.8" height="10.8"/><rect x="1939.3" y="1342.4" width="10.8" height="10.8"/><rect x="1953.1" y="1336.1" width="10.8" height="10.8"/><rect x="1953.1" y="1346.6" width="10.8" height="10.8"/><rect x="1891.4" y="1368.4" width="10.8" height="10.8"/>
<path class="m" d="M1830.2 1325H1963.4"/>
<path class="c" d="M1863.6 1314H1930M1863.6 1336H1930"/>
<path class="s" d="M1896.8 1314V1336"/>
</g>
</svg></body></html>
